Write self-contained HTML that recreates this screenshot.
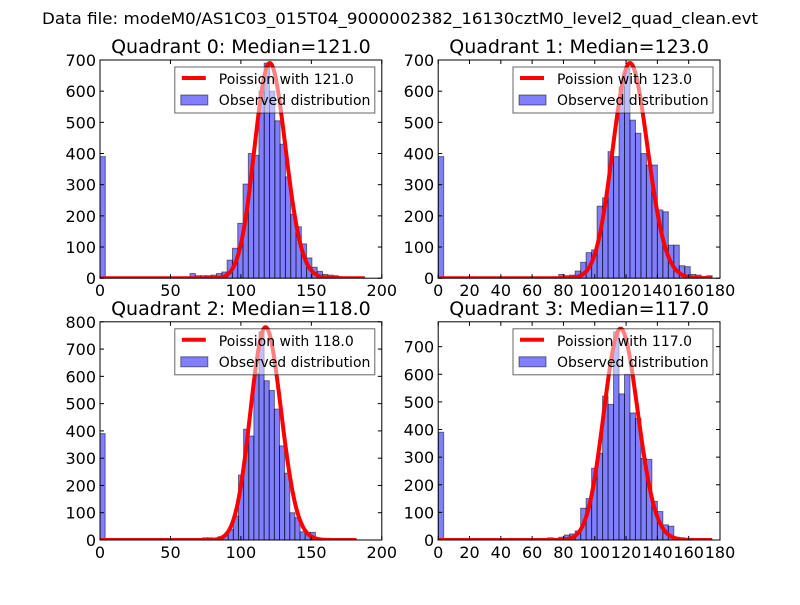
<!DOCTYPE html>
<html><head><meta charset="utf-8"><style>
body{margin:0;background:#fff}
svg text{font-family:"DejaVu Sans","Liberation Sans",sans-serif}
</style></head><body>
<svg id="fig" width="800" height="600" xmlns="http://www.w3.org/2000/svg">
<rect width="800" height="600" fill="#fff"/>
<text x="400" y="24" font-size="16" text-anchor="middle" textLength="716" lengthAdjust="spacingAndGlyphs">Data file: modeM0/AS1C03_015T04_9000002382_16130cztM0_level2_quad_clean.evt</text>
</svg>
<script>
// Quadrant data
const q0Counts = [390,0,0,0,0,0,0,0,0,0,0,0,0,0,0,0,0,15,8,8,8,10,15,20,58,96,176,302,400,394,600,690,600,505,430,325,205,165,110,65,35,22,12,10,8,3,2,2,2,1];
const q1Counts = [390,0,0,0,0,0,0,0,0,0,0,0,0,0,0,0,0,0,0,3,3,4,12,8,10,23,51,82,91,231,258,406,390,614,673,507,465,400,363,363,219,213,106,106,40,37,12,10,5,8];
const q2Counts = [390,0,0,0,0,0,0,0,0,0,0,0,0,0,0,0,0,0,0,0,8,8,3,12,18,39,88,238,406,381,611,764,584,548,480,345,245,100,82,30,28,28,2,1,1,1,1,1,1,1];
const q3Counts = [390,0,0,0,0,0,0,0,0,0,0,0,0,0,0,0,0,0,0,3,8,3,10,18,22,33,115,150,260,314,521,491,754,529,600,460,440,295,292,140,103,55,50,10,8,3,2,2,1,1];
const lambdas = [121, 123, 118, 117];
const curvePeaks = [690, 690, 780, 765];
const dataMax = [188, 175, 182, 175];
const xMaxes = [200, 180, 200, 180];
const yMaxes = [700, 700, 800, 790];
const xTickLabels = [[0,50,100,150,200],[0,20,40,60,80,100,120,140,160,180],[0,50,100,150,200],[0,20,40,60,80,100,120,140,160,180]];
const yTickLabels = [[0,100,200,300,400,500,600,700],[0,100,200,300,400,500,600,700],[0,100,200,300,400,500,600,700,800],[0,100,200,300,400,500,600,700]];
const allCounts = [q0Counts,q1Counts,q2Counts,q3Counts];

const NS="http://www.w3.org/2000/svg";
const svg=document.getElementById('fig');
function mk(tag,attrs,parent){const e=document.createElementNS(NS,tag);for(const k in attrs)e.setAttribute(k,attrs[k]);(parent||svg).appendChild(e);return e;}
function lgamma(x){
  if(x<7){let p=1;while(x<7){p*=x;x+=1;}return lgamma(x)-Math.log(p);}
  return (x-0.5)*Math.log(x)-x+0.5*Math.log(2*Math.PI)+1/(12*x)-1/(360*x*x*x);
}
const W=281.8,H=218.2;
const origins=[[100,60],[438.2,60],[100,321.8],[438.2,321.8]];
for(let q=0;q<4;q++){
  const [L,T]=origins[q];
  const g=mk('g',{});
  
  
  const xs=v=>L+v/xMaxes[q]*W;
  const ys=v=>T+H-v/yMaxes[q]*H;
  const clip=mk('clipPath',{id:'c'+q},g);mk('rect',{x:L,y:T,width:W,height:H},clip);
  const pg=mk('g',{'clip-path':'url(#c'+q+')'},g);
  const counts=allCounts[q];const bw=dataMax[q]/counts.length;
  counts.forEach((c,i)=>{
    if(c<=0)return;
    const r=mk('rect',{x:xs(i*bw),y:ys(c),width:xs(bw)-xs(0),height:ys(0)-ys(c),fill:'#0000ff','fill-opacity':0.5,stroke:'#000','stroke-opacity':0.5,'stroke-width':1},pg);
    
    
  });
  const lam=lambdas[q];const peak=Math.exp(-lam+lam*Math.log(lam)-lgamma(lam+1));
  let d='';
  for(let k=0;k<=Math.round(dataMax[q]);k++){
    const p=Math.exp(-lam+k*Math.log(Math.max(lam,1e-9))-lgamma(k+1));
    const v=curvePeaks[q]*p/peak;
    d+=(k?'L':'M')+xs(k).toFixed(2)+','+ys(v).toFixed(2);
  }
  const line=mk('path',{d:d,fill:'none',stroke:'#ff0000','stroke-width':4,'stroke-linejoin':'round'},pg);
  
  
  mk('rect',{x:L,y:T,width:W,height:H,fill:'none',stroke:'#000','stroke-width':1},g);
  xTickLabels[q].forEach(v=>{
    const x=xs(v);
    mk('line',{x1:x,x2:x,y1:T+H,y2:T+H-4,stroke:'#000'},g);
    mk('line',{x1:x,x2:x,y1:T,y2:T+4,stroke:'#000'},g);
    const t=mk('text',{x:x,y:T+H+18,'font-size':16,'text-anchor':'middle'},g);t.textContent=v;
    
    
  });
  yTickLabels[q].forEach(v=>{
    const y=ys(v);
    mk('line',{x1:L,x2:L+4,y1:y,y2:y,stroke:'#000'},g);
    mk('line',{x1:L+W,x2:L+W-4,y1:y,y2:y,stroke:'#000'},g);
    const t=mk('text',{x:L-4,y:y+6,'font-size':16,'text-anchor':'end'},g);t.textContent=v;
    
    
  });
  const tt=mk('text',{x:L+W/2,y:T-7,'font-size':19,'text-anchor':'middle'},g);
  tt.textContent='Quadrant '+q+': Median='+lambdas[q].toFixed(1);
  
  
  const lg=mk('g',{},g);
  
  
  const lx=L+W-207,ly=T+7;
  mk('rect',{x:lx,y:ly,width:200,height:46,fill:'#fff','fill-opacity':0.5,stroke:'#000','stroke-opacity':0.6},lg);
  mk('line',{x1:lx+7,x2:lx+31,y1:ly+11,y2:ly+11,stroke:'#ff0000','stroke-width':4},lg);
  mk('rect',{x:lx+6,y:ly+28,width:27,height:10,fill:'#0000ff','fill-opacity':0.5,stroke:'#000','stroke-opacity':0.5},lg);
  const t1=mk('text',{x:lx+44,y:ly+17,'font-size':14},lg);t1.textContent='Poission with '+lambdas[q].toFixed(1);
  
  
  const t2=mk('text',{x:lx+44,y:ly+38,'font-size':14},lg);t2.textContent='Observed distribution';
  
  
}
</script>
</body></html>
